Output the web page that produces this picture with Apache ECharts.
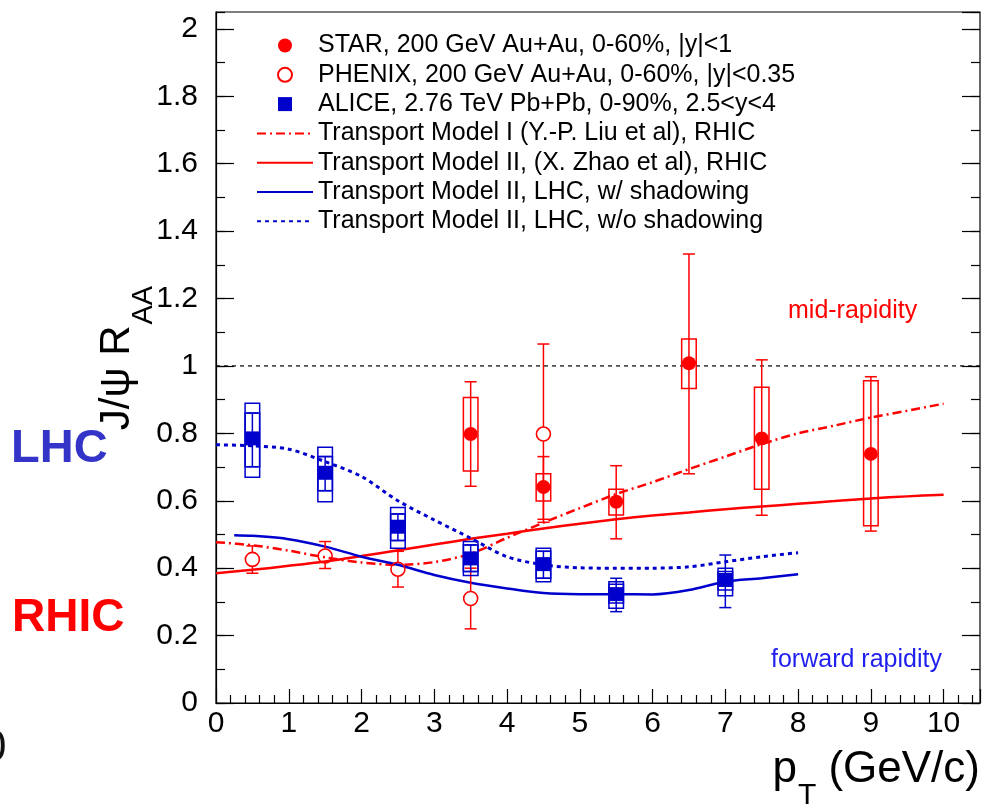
<!DOCTYPE html>
<html><head><meta charset="utf-8">
<script src="https://cdn.jsdelivr.net/npm/echarts@6/dist/echarts.min.js"></script>
<style>html,body{margin:0;padding:0;background:#fff}#c{width:986px;height:807px}</style>
</head><body><div id="c"></div>
<script>
// ---------------- DATA ----------------
const starX = [3.5, 4.5, 5.5, 6.5, 7.5, 9];
const starY = [0.798, 0.641, 0.597, 1.008, 0.785, 0.739];
const starStatLo = [0.643, 0.545, 0.487, 0.680, 0.557, 0.510];
const starStatHi = [0.953, 0.731, 0.704, 1.332, 1.018, 0.968];
const starSysLo = [0.688, 0.599, 0.558, 0.933, 0.634, 0.526];
const starSysHi = [0.906, 0.680, 0.634, 1.080, 0.937, 0.956];

const phenixX = [0.5, 1.5, 2.5, 3.5, 4.5];
const phenixY = [0.426, 0.436, 0.397, 0.310, 0.798];
const phenixStatLo = [0.385, 0.399, 0.344, 0.220, 0.536];
const phenixStatHi = [0.466, 0.479, 0.450, 0.400, 1.065];

const aliceX = [0.5, 1.5, 2.5, 3.5, 4.5, 5.5, 7];
const aliceY = [0.785, 0.683, 0.523, 0.429, 0.412, 0.323, 0.365];
const aliceStatLo = [0.701, 0.630, 0.482, 0.390, 0.370, 0.271, 0.283];
const aliceStatHi = [0.860, 0.731, 0.561, 0.469, 0.450, 0.370, 0.439];
const aliceSysLo = [0.670, 0.597, 0.459, 0.378, 0.360, 0.281, 0.318];
const aliceSysHi = [0.889, 0.759, 0.580, 0.479, 0.459, 0.360, 0.400];
const aliceSys2Lo = [0.701, 0.630, 0.482, 0.390, 0.370, 0.297, 0.335];
const aliceSys2Hi = [0.860, 0.731, 0.561, 0.469, 0.450, 0.352, 0.390];

const modelIX = [0, 0.5, 1, 1.5, 2, 2.5, 3, 3.5, 4, 4.5, 5, 5.5, 6, 6.5, 7, 7.5, 8, 8.5, 9, 9.5, 10];
const modelIY = [0.477, 0.468, 0.452, 0.432, 0.417, 0.410, 0.418, 0.443, 0.490, 0.535, 0.578, 0.620, 0.655, 0.694, 0.731, 0.768, 0.800, 0.823, 0.847, 0.867, 0.888];

const modelIIX = [0, 0.5, 1, 1.5, 2, 2.5, 3, 3.5, 4, 4.5, 5, 5.5, 6, 6.5, 7, 7.5, 8, 8.5, 9, 9.5, 10];
const modelIIY = [0.385, 0.395, 0.407, 0.420, 0.436, 0.453, 0.470, 0.487, 0.502, 0.518, 0.532, 0.545, 0.556, 0.565, 0.575, 0.583, 0.591, 0.599, 0.607, 0.613, 0.618];

const lhcShadX = [0.25, 0.5, 1, 1.5, 2, 2.5, 3, 3.5, 4, 4.5, 5, 5.5, 6, 6.5, 7, 7.5, 8];
const lhcShadY = [0.498, 0.496, 0.486, 0.464, 0.434, 0.410, 0.380, 0.357, 0.340, 0.326, 0.323, 0.323, 0.322, 0.335, 0.360, 0.370, 0.382];

const lhcNoShadX = [0, 0.5, 1, 1.5, 2, 2.5, 3, 3.5, 4, 4.5, 5, 5.5, 6, 6.5, 7, 7.5, 8];
const lhcNoShadY = [0.766, 0.763, 0.753, 0.716, 0.672, 0.600, 0.543, 0.489, 0.434, 0.410, 0.401, 0.400, 0.400, 0.404, 0.419, 0.434, 0.446];

const unityX = [0, 10.5];
const unityY = [1, 1];

const seriesNames = [
  'STAR, 200 GeV Au+Au, 0-60%, |y|<1',
  'PHENIX, 200 GeV Au+Au, 0-60%, |y|<0.35',
  'ALICE, 2.76 TeV Pb+Pb, 0-90%, 2.5<y<4',
  'Transport Model I (Y.-P. Liu et al), RHIC',
  'Transport Model II, (X. Zhao et al), RHIC',
  'Transport Model II, LHC, w/ shadowing',
  'Transport Model II, LHC, w/o shadowing'
];

const X_MIN = 0, X_MAX = 10.5, X_MAJOR = 1, X_MINOR_SPLIT = 5;
const Y_MIN = 0, Y_MAX = 2.05, Y_MAJOR = 0.2, Y_MINOR = 0.1;

// ---------------- STYLE ----------------
const RED = '#ff0000';
const BLUE = '#0000cc';
const FONT = '"Liberation Sans", Arial, Helvetica, sans-serif';
const BOX_HALF = 0.1;   // half-width of systematic boxes (x units)
const CAP = 6;          // error-bar cap half-width (px)
const MR = 7;           // open marker radius (px)
const MID = 0.3465;     // canvas 'middle' offset above alphabetic baseline (em)

const zip = (xs, ...cols) => xs.map((x, i) => [x, ...cols.map(c => c[i])]);

const mctx = document.createElement('canvas').getContext('2d');
function tw(text, size, weight) {
  mctx.font = (weight || 'normal') + ' ' + size + 'px ' + FONT;
  return mctx.measureText(text).width;
}

function lineEl(x1, y1, x2, y2, color) {
  return { type: 'line', shape: { x1, y1, x2, y2 }, style: { stroke: color, lineWidth: 1.5, fill: 'none' } };
}
function rectEl(p1, p2, color) {
  return { type: 'rect', shape: { x: Math.min(p1[0], p2[0]), y: Math.min(p1[1], p2[1]), width: Math.abs(p2[0] - p1[0]), height: Math.abs(p2[1] - p1[1]) },
    style: { stroke: color, lineWidth: 1.5, fill: 'none' } };
}

function renderStar(params, api) {
  const x = api.value(0);
  const lo = api.coord([x, api.value(2)]), hi = api.coord([x, api.value(3)]);
  const b1 = api.coord([x - BOX_HALF, api.value(4)]), b2 = api.coord([x + BOX_HALF, api.value(5)]);
  return { type: 'group', children: [
    lineEl(lo[0], lo[1], hi[0], hi[1], RED),
    lineEl(lo[0] - CAP, lo[1], lo[0] + CAP, lo[1], RED),
    lineEl(hi[0] - CAP, hi[1], hi[0] + CAP, hi[1], RED),
    rectEl(b1, b2, RED)
  ]};
}
function renderPhenix(params, api) {
  const x = api.value(0);
  const c = api.coord([x, api.value(1)]);
  const lo = api.coord([x, api.value(2)]), hi = api.coord([x, api.value(3)]);
  const ch = [
    lineEl(lo[0] - CAP, lo[1], lo[0] + CAP, lo[1], RED),
    lineEl(hi[0] - CAP, hi[1], hi[0] + CAP, hi[1], RED)
  ];
  if (lo[1] > c[1] + MR) ch.push(lineEl(lo[0], lo[1], lo[0], c[1] + MR, RED));
  if (hi[1] < c[1] - MR) ch.push(lineEl(hi[0], hi[1], hi[0], c[1] - MR, RED));
  return { type: 'group', children: ch };
}
function renderAlice(params, api) {
  const x = api.value(0);
  const lo = api.coord([x, api.value(2)]), hi = api.coord([x, api.value(3)]);
  const o1 = api.coord([x - BOX_HALF, api.value(4)]), o2 = api.coord([x + BOX_HALF, api.value(5)]);
  const i1 = api.coord([x - BOX_HALF, api.value(6)]), i2 = api.coord([x + BOX_HALF, api.value(7)]);
  return { type: 'group', children: [
    rectEl(o1, o2, BLUE),
    rectEl(i1, i2, BLUE),
    lineEl(lo[0], lo[1], hi[0], hi[1], BLUE),
    lineEl(lo[0] - CAP, lo[1], lo[0] + CAP, lo[1], BLUE),
    lineEl(hi[0] - CAP, hi[1], hi[0] + CAP, hi[1], BLUE)
  ]};
}

const chart = echarts.init(document.getElementById('c'), null, { renderer: 'canvas', devicePixelRatio: 1 });

const gridRect = { left: 216, right: 6, top: 12, bottom: 104 };
const tickLabel = { color: '#000', fontSize: 30, fontFamily: FONT };
const tickLine = { color: '#000', width: 1.2 };

// ---- axis titles (text placed by measured widths) ----
const yMainSize = 42, ySubSize = 29;
const yMain = 'J/\u03c8 R', ySub = 'AA';
const yMainW = tw(yMain, yMainSize), ySubW = tw(ySub, ySubSize);
const yStart = 358 + (yMainW + ySubW + 1) / 2;   // centred along the axis
const yBase = 132;                                  // baseline (screen x) of main title

const xMainSize = 44, xSubSize = 30;
const xP = 'p', xT = 'T', xRest = ' (GeV/c)';
const wP = tw(xP, xMainSize), wT = tw(xT, xSubSize), wRest = tw(xRest, xMainSize);
const xStart = 980 - (wP + 1 + wT + wRest);
const xBase = 785;

const legendData = seriesNames.map((n, i) => {
  if (i === 2) return { name: n, icon: 'path://M0,0L10,0L10,10L0,10Z' };
  if (i >= 3) return { name: n, itemStyle: { opacity: 0 } };
  return { name: n };
});

const option = {
  animation: false,
  backgroundColor: '#fff',
  grid: [
    Object.assign({ show: true, borderColor: '#000', borderWidth: 1.2, backgroundColor: 'transparent', containLabel: false }, gridRect),
    Object.assign({ show: false, containLabel: false }, gridRect)
  ],
  xAxis: [
    { type: 'value', gridIndex: 0, min: X_MIN, max: X_MAX, interval: X_MAJOR, position: 'bottom',
      axisLine: { show: true, onZero: false, lineStyle: tickLine },
      axisTick: { show: true, inside: true, length: 14, lineStyle: tickLine },
      minorTick: { show: true, splitNumber: X_MINOR_SPLIT, length: 8, lineStyle: tickLine },
      axisLabel: Object.assign({ margin: 6, showMaxLabel: false }, tickLabel),
      splitLine: { show: false } },
    { type: 'value', gridIndex: 1, min: X_MIN, max: X_MAX, interval: X_MAJOR, position: 'bottom', show: false }
  ],
  yAxis: [
    { type: 'value', gridIndex: 0, min: Y_MIN, max: Y_MAX, interval: Y_MAJOR, position: 'left',
      axisLine: { show: true, onZero: false, lineStyle: tickLine },
      axisTick: { show: true, inside: true, length: 18, lineStyle: tickLine },
      axisLabel: Object.assign({ margin: 18, showMaxLabel: false }, tickLabel),
      splitLine: { show: false } },
    { type: 'value', gridIndex: 0, min: Y_MIN, max: Y_MAX, interval: Y_MAJOR, position: 'right',
      axisLine: { show: false, onZero: false },
      axisTick: { show: true, inside: true, length: 18, lineStyle: tickLine },
      axisLabel: { show: false }, splitLine: { show: false } },
    { type: 'value', gridIndex: 1, min: Y_MIN, max: Y_MAX, interval: Y_MINOR, position: 'left',
      axisLine: { show: false, onZero: false },
      axisTick: { show: true, inside: true, length: 9, lineStyle: tickLine },
      axisLabel: { show: false }, splitLine: { show: false } },
    { type: 'value', gridIndex: 1, min: Y_MIN, max: Y_MAX, interval: Y_MINOR, position: 'right',
      axisLine: { show: false, onZero: false },
      axisTick: { show: true, inside: true, length: 9, lineStyle: tickLine },
      axisLabel: { show: false }, splitLine: { show: false } }
  ],
  legend: {
    orient: 'vertical', left: 251, top: 28, itemWidth: 56, itemHeight: 14, itemGap: 4.3,
    selectedMode: false, symbolKeepAspect: true,
    textStyle: { color: '#000', fontSize: 25, fontFamily: FONT },
    data: legendData
  },
  series: [
    { type: 'line', name: 'unity', data: zip(unityX, unityY), symbol: 'none', silent: true, z: 1,
      lineStyle: { color: '#000', width: 1.2, type: [4, 4] } },
    { type: 'line', name: seriesNames[3], data: zip(modelIX, modelIY), symbol: 'none', smooth: 0.3, z: 2,
      lineStyle: { color: RED, width: 2.5, type: [9, 4, 2, 4] }, itemStyle: { color: RED } },
    { type: 'line', name: seriesNames[4], data: zip(modelIIX, modelIIY), symbol: 'none', smooth: 0.3, z: 2,
      lineStyle: { color: RED, width: 2.5, type: 'solid' }, itemStyle: { color: RED } },
    { type: 'line', name: seriesNames[5], data: zip(lhcShadX, lhcShadY), symbol: 'none', smooth: 0.3, z: 2,
      lineStyle: { color: BLUE, width: 2.5, type: 'solid' }, itemStyle: { color: BLUE } },
    { type: 'line', name: seriesNames[6], data: zip(lhcNoShadX, lhcNoShadY), symbol: 'none', smooth: 0.3, z: 2,
      lineStyle: { color: BLUE, width: 3, type: [4, 4] }, itemStyle: { color: BLUE } },
    { type: 'custom', name: 'starErr', data: zip(starX, starY, starStatLo, starStatHi, starSysLo, starSysHi), renderItem: renderStar, z: 3, silent: true },
    { type: 'custom', name: 'phenixErr', data: zip(phenixX, phenixY, phenixStatLo, phenixStatHi), renderItem: renderPhenix, z: 3, silent: true },
    { type: 'custom', name: 'aliceErr', data: zip(aliceX, aliceY, aliceStatLo, aliceStatHi, aliceSysLo, aliceSysHi, aliceSys2Lo, aliceSys2Hi), renderItem: renderAlice, z: 3, silent: true },
    { type: 'scatter', name: seriesNames[0], data: zip(starX, starY), symbol: 'circle', symbolSize: 14, z: 5,
      itemStyle: { color: RED, opacity: 1 } },
    { type: 'scatter', name: seriesNames[1], data: zip(phenixX, phenixY), symbol: 'circle', symbolSize: 14, z: 5,
      itemStyle: { color: 'rgba(255,255,255,0)', borderColor: RED, borderWidth: 1.6, opacity: 1 } },
    { type: 'scatter', name: seriesNames[2], data: zip(aliceX, aliceY), symbol: 'rect', symbolSize: 14, z: 5,
      itemStyle: { color: BLUE, opacity: 1 } }
  ],
  graphic: [
    { type: 'text', x: yBase - MID * yMainSize, y: yStart, rotation: Math.PI / 2, silent: true,
      style: { text: yMain, fontSize: yMainSize, fontFamily: FONT, fill: '#000', align: 'left', verticalAlign: 'middle' } },
    { type: 'text', x: yBase + 1 + 0.716 * ySubSize - MID * ySubSize, y: yStart - yMainW - 1, rotation: Math.PI / 2, silent: true,
      style: { text: ySub, fontSize: ySubSize, fontFamily: FONT, fill: '#000', align: 'left', verticalAlign: 'middle' } },
    { type: 'text', x: xStart, y: xBase - MID * xMainSize, silent: true,
      style: { text: xP, fontSize: xMainSize, fontFamily: FONT, fill: '#000', align: 'left', verticalAlign: 'middle' } },
    { type: 'text', x: xStart + wP + 1, y: xBase + 21 - MID * xSubSize, silent: true,
      style: { text: xT, fontSize: xSubSize, fontFamily: FONT, fill: '#000', align: 'left', verticalAlign: 'middle' } },
    { type: 'text', x: xStart + wP + 1 + wT, y: xBase - MID * xMainSize, silent: true,
      style: { text: xRest, fontSize: xMainSize, fontFamily: FONT, fill: '#000', align: 'left', verticalAlign: 'middle' } },
    { type: 'text', x: 788, y: 311, silent: true,
      style: { text: 'mid-rapidity', fontSize: 25, fontFamily: FONT, fill: RED, align: 'left', verticalAlign: 'middle' } },
    { type: 'text', x: 771, y: 660, silent: true,
      style: { text: 'forward rapidity', fontSize: 25, fontFamily: FONT, fill: '#1f1fee', align: 'left', verticalAlign: 'middle' } },
    { type: 'text', x: 11, y: 449, silent: true,
      style: { text: 'LHC', fontSize: 47, fontWeight: 'bold', fontFamily: FONT, fill: '#3434c8', align: 'left', verticalAlign: 'middle' } },
    { type: 'text', x: 12, y: 618, silent: true,
      style: { text: 'RHIC', fontSize: 46, fontWeight: 'bold', fontFamily: FONT, fill: '#ff0000', align: 'left', verticalAlign: 'middle' } },
    { type: 'text', x: -18, y: 749, silent: true,
      style: { text: '0', fontSize: 44, fontFamily: FONT, fill: '#111', align: 'left', verticalAlign: 'middle' } }
  ]
};
chart.setOption(option);
</script></body></html>
